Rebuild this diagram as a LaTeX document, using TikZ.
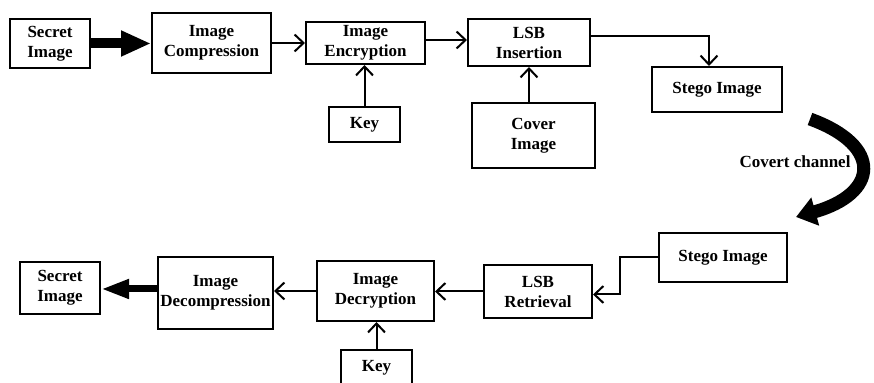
\documentclass[tikz,border=0pt]{standalone}
\usepackage{fontspec}
\setmainfont{Liberation Serif}
\usetikzlibrary{arrows.meta}
\begin{document}
\begin{tikzpicture}[x=0.5pt,y=-0.5pt,
  box/.style={draw, line width=1pt, align=center, inner sep=0pt,
    font=\fontsize{8.5}{10}\selectfont\bfseries},
  flow/.style={line width=1pt, -{Straight Barb[length=4.5pt,width=8.5pt,line width=1pt]}},
  bigflow/.style={line width=5pt, -{Triangle[length=15pt,width=12pt]}},
  bigflowb/.style={line width=3.5pt, -{Triangle[length=14pt,width=9pt]}},
  chan/.style={line width=6.5pt, -{Triangle[length=10pt,width=14pt]}},
  lbl/.style={font=\fontsize{8.5}{10}\selectfont\bfseries}]
\useasboundingbox (0,0) rectangle (874,383);
% top row
\node[box, minimum width=40pt, minimum height=24.5pt] (sec1) at (50,43.5) {Secret\\Image};
\node[box, minimum width=59.5pt, minimum height=30pt] (comp) at (211.5,43) {Image\\Compression};
\node[box, minimum width=59.5pt, minimum height=21pt] (enc) at (365.5,43) {Image\\Encryption};
\node[box, minimum width=35.5pt, minimum height=17.5pt] (key1) at (364.5,124.5) {Key};
\node[box, minimum width=61pt, minimum height=23.5pt] (lsbi) at (529,42.5) {LSB\\Insertion};
\node[box, minimum width=61.5pt, minimum height=32.5pt] (cover) at (533.5,135.5) {Cover\\Image};
\node[box, minimum width=65pt, minimum height=22.5pt] (stego1) at (717,89.5) {Stego Image};
% channel
\node[lbl] (cc) at (795,162) {Covert channel};
\coordinate (cs) at (810,119);
\coordinate (ce) at (796,217);
% bottom row
\node[box, minimum width=64pt, minimum height=24.5pt] (stego2) at (723,257.5) {Stego Image};
\node[box, minimum width=54pt, minimum height=26.5pt] (lsbr) at (538,291.5) {LSB\\Retrieval};
\node[box, minimum width=58.5pt, minimum height=30pt] (dec) at (375.5,291) {Image\\Decryption};
\node[box, minimum width=35.5pt, minimum height=18pt] (key2) at (376.5,368) {Key};
\node[box, minimum width=57.5pt, minimum height=36pt] (decomp) at (215.5,293) {Image\\Decompression};
\node[box, minimum width=40pt, minimum height=26pt] (sec2) at (60,288) {Secret\\Image};
% connectors top
\draw[bigflow] (sec1.east) -- (sec1.east -| comp.west);
\draw[flow] (comp.east) -- (comp.east -| enc.west);
\draw[flow] ([yshift=1.5pt]enc.east) -- ([yshift=1.5pt]enc.east -| lsbi.west);
\draw[flow] (key1.north) -- (key1.north |- enc.south);
\draw[flow] (lsbi.south |- cover.north) -- (lsbi.south);
\draw[flow] ([yshift=3pt]lsbi.east) -| ([xshift=-4pt]stego1.north);
% channel arrow
\draw[chan] (cs) .. controls (884,146) and (878,194) .. (ce);
% connectors bottom
\draw[flow] (stego2.west) -- ++(-38,0) |- ([yshift=-1.5pt]lsbr.east);
\draw[flow] (lsbr.west) -- (lsbr.west -| dec.east);
\draw[flow] (dec.west) -- (dec.west -| decomp.east);
\draw[flow] (key2.north) -- (key2.north |- dec.south);
\draw[bigflowb] ([yshift=2pt]decomp.west) -- ([yshift=2pt]decomp.west -| sec2.east);
\end{tikzpicture}
\end{document}
